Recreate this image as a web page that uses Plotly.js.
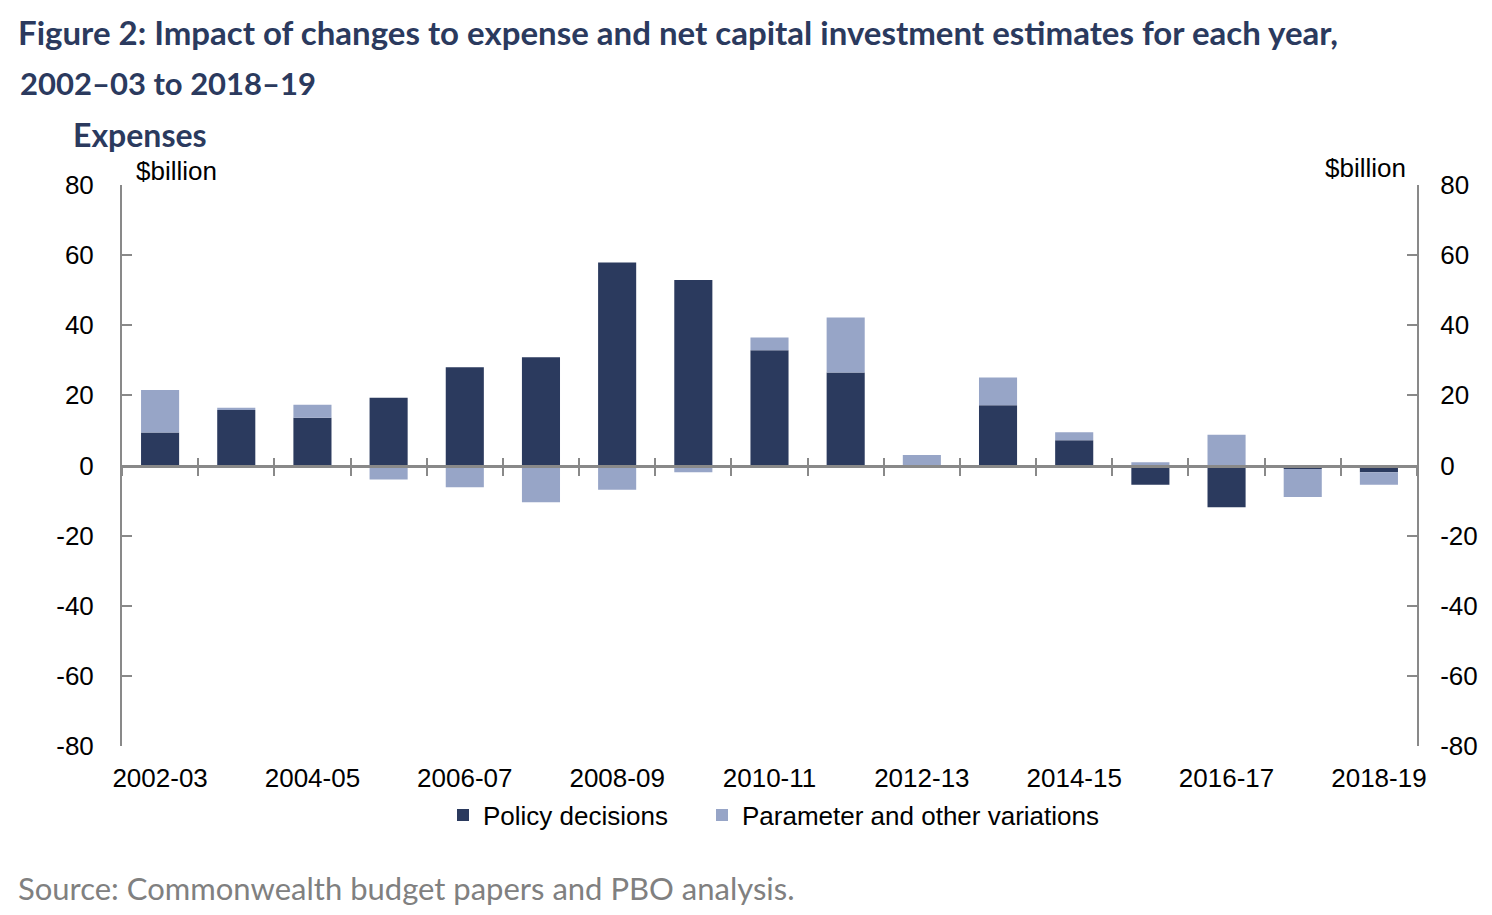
<!DOCTYPE html>
<html>
<head>
<meta charset="utf-8">
<script src="https://cdn.plot.ly/plotly-3.0.1.min.js"></script>
<style>html,body{margin:0;padding:0;background:#fff;}#chart{width:1492px;height:915px;}</style>
</head>
<body>
<div id="chart"></div>
<script>
const categories = ['2002-03','2003-04','2004-05','2005-06','2006-07','2007-08','2008-09','2009-10','2010-11','2011-12','2012-13','2013-14','2014-15','2015-16','2016-17','2017-18','2018-19'];
const policyDecisions = [9.4, 15.8, 13.6, 19.3, 28.0, 30.9, 57.9, 52.9, 32.9, 26.5, 0.0, 17.2, 7.2, -5.5, -11.9, -1.0, -1.9];
const parameterVariations = [12.1, 0.7, 3.7, -4.0, -6.2, -10.5, -6.9, -1.9, 3.6, 15.7, 3.0, 7.9, 2.3, 0.9, 8.8, -8.0, -3.6];
const labelledTicks = categories.filter((c, i) => i % 2 === 0);
const yTickValues = [-80, -60, -40, -20, 0, 20, 40, 60, 80];
const yTickLabels = ['-80', '-60', '-40', '-20', '0', '20', '40', '60', '80'];
const seriesNames = ['Policy decisions', 'Parameter and other variations'];

const darkBlue = '#2B3A5E';
const lightBlue = '#97A5C7';
const axisGrey = '#898989';
const tickFont = {family: 'Liberation Sans, Arial, sans-serif', size: 26, color: '#000'};

const traces = [
  {type: 'bar', name: seriesNames[0], x: categories, y: policyDecisions, legend: 'legend',
   marker: {color: darkBlue, line: {width: 0}}, hoverinfo: 'x+y+name'},
  {type: 'bar', name: seriesNames[1], x: categories, y: parameterVariations, legend: 'legend2',
   marker: {color: lightBlue, line: {width: 0}}, hoverinfo: 'x+y+name'},
  {type: 'scatter', mode: 'markers', x: categories, y: categories.map(() => null),
   xaxis: 'x2', yaxis: 'y2', showlegend: false, hoverinfo: 'skip'},
  {type: 'scatter', mode: 'markers', x: categories, y: categories.map(() => null),
   xaxis: 'x3', yaxis: 'y2', showlegend: false, hoverinfo: 'skip'}
];

const crossAxis = {
  overlaying: 'x', anchor: 'free', position: 0.5, type: 'category',
  tickmode: 'linear', tick0: 0, dtick: 1, tickson: 'boundaries',
  ticklen: 8, tickwidth: 2, tickcolor: axisGrey,
  showticklabels: false, showgrid: false, zeroline: false,
  range: [-0.5, categories.length - 0.5]
};

const yCommon = {
  range: [-80, 80], tickmode: 'array', tickvals: yTickValues, ticktext: yTickLabels,
  ticks: 'inside', ticklen: 10, tickwidth: 2, tickcolor: axisGrey,
  showline: true, linecolor: axisGrey, linewidth: 2,
  showgrid: false, zeroline: false, tickfont: tickFont
};

const legendCommon = {
  orientation: 'h', xanchor: 'left', y: -0.123, yanchor: 'middle',
  font: tickFont, itemwidth: 30, bgcolor: 'rgba(0,0,0,0)'
};

const layout = {
  width: 1492, height: 915,
  paper_bgcolor: '#fff', plot_bgcolor: '#fff',
  margin: {l: 122, r: 75, t: 185, b: 169},
  barmode: 'relative', bargap: 0.5,
  title: {
    text: 'Figure 2: Impact of changes to expense and net capital investment estimates for each year,',
    font: {family: 'Lato, sans-serif', size: 33, color: darkBlue, weight: 700},
    x: 18 / 1492, xanchor: 'left', xref: 'container',
    y: 1 - 33 / 915, yanchor: 'middle', yref: 'container'
  },
  xaxis: {
    type: 'category', tickmode: 'array', tickvals: labelledTicks, ticktext: labelledTicks,
    showline: false, ticks: '', showgrid: false, zeroline: false,
    tickfont: tickFont, ticklabelstandoff: 14,
    range: [-0.5, categories.length - 0.5]
  },
  xaxis2: Object.assign({}, crossAxis, {showline: true, linecolor: axisGrey, linewidth: 3, ticks: 'outside'}),
  xaxis3: Object.assign({}, crossAxis, {showline: false, ticks: 'inside'}),
  yaxis: Object.assign({}, yCommon, {ticklabelstandoff: 21}),
  yaxis2: Object.assign({}, yCommon, {overlaying: 'y', side: 'right', anchor: 'x', ticklabelstandoff: 16}),
  legend: Object.assign({}, legendCommon, {x: (443 - 122) / 1295}),
  legend2: Object.assign({}, legendCommon, {x: (702 - 122) / 1295}),
  showlegend: true,
  annotations: [
    {text: '2002–03 to 2018–19', xref: 'paper', yref: 'paper', x: 0, y: 1,
     xanchor: 'left', yanchor: 'middle', xshift: -104, yshift: 102, showarrow: false,
     font: {family: 'Lato, sans-serif', size: 31, color: darkBlue, weight: 700}},
    {text: 'Expenses', xref: 'paper', yref: 'paper', x: 0, y: 1,
     xanchor: 'left', yanchor: 'middle', xshift: -51, yshift: 51, showarrow: false,
     font: {family: 'Lato, sans-serif', size: 32, color: darkBlue, weight: 700}},
    {text: '$billion', xref: 'paper', yref: 'paper', x: 0, y: 1,
     xanchor: 'left', yanchor: 'middle', xshift: 12, yshift: 14, showarrow: false,
     font: tickFont},
    {text: '$billion', xref: 'paper', yref: 'paper', x: 1, y: 1,
     xanchor: 'right', yanchor: 'middle', xshift: -9, yshift: 17, showarrow: false,
     font: tickFont},
    {text: 'Source: Commonwealth budget papers and PBO analysis.', xref: 'paper', yref: 'paper', x: 0, y: 0,
     xanchor: 'left', yanchor: 'middle', xshift: -106, yshift: -142, showarrow: false,
     font: {family: 'Lato, sans-serif', size: 31, color: '#808080'}}
  ]
};

Plotly.newPlot('chart', traces, layout, {displayModeBar: false, staticPlot: false});
</script>
</body>
</html>
